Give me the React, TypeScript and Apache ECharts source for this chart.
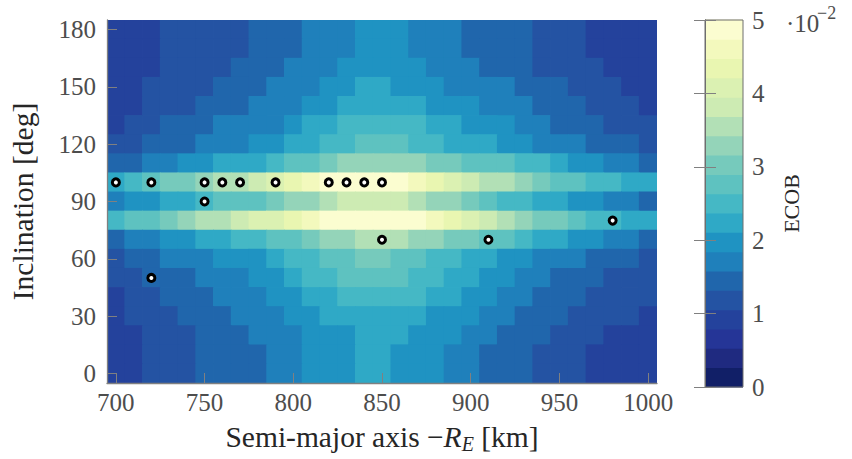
import { useEffect, useRef } from 'react';
import * as echarts from 'echarts';

// Semi-major axis minus Earth radius [km] (cell centres)
const semiMajorAxisKm = [700, 710, 720, 730, 740, 750, 760, 770, 780, 790, 800, 810, 820, 830, 840, 850, 860, 870, 880, 890, 900, 910, 920, 930, 940, 950, 960, 970, 980, 990, 1000];
// Inclination [deg] (cell centres), top row first
const inclinationDeg = [180, 170, 160, 150, 140, 130, 120, 110, 100, 90, 80, 70, 60, 50, 40, 30, 20, 10, 0];

// ECOB values in units of 1e-2, one row per inclination (same order as inclinationDeg)
const ecob180 = [0.9, 0.9, 0.9, 1.2, 1.2, 1.2, 1.2, 1.2, 1.4, 1.4, 1.4, 1.7, 1.7, 1.7, 2.0, 2.0, 2.0, 1.7, 1.7, 1.7, 1.4, 1.4, 1.4, 1.4, 1.2, 1.2, 1.2, 0.9, 0.9, 0.9, 0.9];
const ecob170 = [0.9, 0.9, 0.9, 1.2, 1.2, 1.2, 1.2, 1.2, 1.4, 1.4, 1.4, 1.7, 1.7, 1.7, 2.0, 2.0, 2.0, 1.7, 1.7, 1.7, 1.4, 1.4, 1.4, 1.4, 1.2, 1.2, 1.2, 0.9, 0.9, 0.9, 0.9];
const ecob160 = [0.9, 0.9, 0.9, 1.2, 1.2, 1.2, 1.2, 1.4, 1.4, 1.4, 1.7, 1.7, 1.7, 2.0, 2.0, 2.0, 2.0, 2.0, 1.7, 1.7, 1.7, 1.4, 1.4, 1.4, 1.2, 1.2, 1.2, 1.2, 0.9, 0.9, 0.9];
const ecob150 = [0.9, 0.9, 1.2, 1.2, 1.2, 1.2, 1.4, 1.4, 1.4, 1.7, 1.7, 1.7, 2.0, 2.0, 2.2, 2.2, 2.0, 2.0, 2.0, 1.7, 1.7, 1.7, 1.7, 1.4, 1.4, 1.4, 1.2, 1.2, 1.2, 0.9, 0.9];
const ecob140 = [0.9, 0.9, 1.2, 1.2, 1.2, 1.4, 1.4, 1.4, 1.7, 1.7, 1.7, 2.0, 2.0, 2.2, 2.2, 2.2, 2.2, 2.2, 2.0, 2.0, 2.0, 1.7, 1.7, 1.7, 1.4, 1.4, 1.4, 1.2, 1.2, 1.2, 0.9];
const ecob130 = [0.9, 1.2, 1.2, 1.4, 1.4, 1.4, 1.7, 1.7, 1.7, 1.7, 2.0, 2.2, 2.2, 2.5, 2.5, 2.5, 2.5, 2.5, 2.2, 2.2, 2.0, 2.0, 2.0, 1.7, 1.7, 1.4, 1.4, 1.4, 1.2, 1.2, 1.2];
const ecob120 = [1.2, 1.2, 1.4, 1.4, 1.4, 1.7, 1.7, 1.7, 2.0, 2.0, 2.2, 2.2, 2.5, 2.5, 2.8, 2.8, 2.8, 2.5, 2.5, 2.2, 2.2, 2.2, 2.0, 2.0, 1.7, 1.7, 1.7, 1.4, 1.4, 1.4, 1.2];
const ecob110 = [1.4, 1.4, 1.7, 1.7, 2.0, 2.0, 2.2, 2.2, 2.2, 2.5, 2.8, 2.8, 3.0, 3.3, 3.3, 3.3, 3.3, 3.3, 3.0, 3.0, 2.8, 2.8, 2.8, 2.5, 2.5, 2.2, 2.0, 2.0, 1.7, 1.7, 1.4];
const ecob100 = [2.2, 2.5, 2.8, 3.0, 3.0, 3.3, 3.5, 3.5, 3.8, 4.1, 4.3, 4.6, 4.9, 4.9, 4.9, 4.9, 4.9, 4.6, 4.3, 4.1, 3.8, 3.5, 3.5, 3.3, 3.0, 2.8, 2.8, 2.5, 2.5, 2.2, 2.2];
const ecob90 = [1.7, 2.0, 2.0, 2.2, 2.2, 2.5, 2.8, 2.8, 2.8, 3.0, 3.3, 3.3, 3.5, 3.8, 3.8, 3.8, 3.8, 3.5, 3.3, 3.3, 3.0, 2.8, 2.5, 2.5, 2.2, 2.2, 2.0, 2.0, 1.7, 1.7, 1.4];
const ecob80 = [2.5, 2.8, 2.8, 3.0, 3.3, 3.5, 3.5, 3.8, 4.1, 4.1, 4.3, 4.6, 4.9, 4.9, 4.9, 4.9, 4.9, 4.9, 4.6, 4.3, 4.1, 3.8, 3.5, 3.3, 3.0, 3.0, 2.8, 2.5, 2.5, 2.2, 2.2];
const ecob70 = [1.4, 1.7, 1.7, 2.0, 2.0, 2.2, 2.2, 2.5, 2.5, 2.8, 2.8, 3.0, 3.3, 3.3, 3.5, 3.5, 3.5, 3.3, 3.3, 3.0, 3.0, 2.8, 2.8, 2.5, 2.2, 2.2, 2.0, 2.0, 1.7, 1.7, 1.4];
const ecob60 = [1.2, 1.4, 1.4, 1.7, 1.7, 1.7, 2.0, 2.0, 2.0, 2.2, 2.5, 2.5, 2.8, 2.8, 3.0, 3.0, 2.8, 2.8, 2.5, 2.5, 2.2, 2.2, 2.0, 2.0, 1.7, 1.7, 1.7, 1.4, 1.4, 1.4, 1.2];
const ecob50 = [1.2, 1.2, 1.4, 1.4, 1.4, 1.7, 1.7, 1.7, 2.0, 2.0, 2.2, 2.5, 2.5, 2.8, 2.8, 2.8, 2.8, 2.5, 2.5, 2.2, 2.2, 2.0, 2.0, 1.7, 1.7, 1.4, 1.4, 1.4, 1.2, 1.2, 1.2];
const ecob40 = [0.9, 1.2, 1.2, 1.4, 1.4, 1.4, 1.7, 1.7, 1.7, 2.0, 2.0, 2.2, 2.2, 2.5, 2.5, 2.5, 2.5, 2.5, 2.2, 2.2, 2.0, 2.0, 1.7, 1.7, 1.4, 1.4, 1.4, 1.2, 1.2, 1.2, 1.2];
const ecob30 = [0.9, 1.2, 1.2, 1.2, 1.4, 1.4, 1.4, 1.7, 1.7, 1.7, 2.0, 2.0, 2.2, 2.2, 2.2, 2.2, 2.2, 2.2, 2.0, 2.0, 2.0, 1.7, 1.7, 1.4, 1.4, 1.4, 1.2, 1.2, 1.2, 1.2, 0.9];
const ecob20 = [0.9, 0.9, 1.2, 1.2, 1.2, 1.4, 1.4, 1.4, 1.7, 1.7, 1.7, 2.0, 2.0, 2.0, 2.2, 2.2, 2.2, 2.0, 2.0, 2.0, 1.7, 1.7, 1.4, 1.4, 1.4, 1.2, 1.2, 1.2, 0.9, 0.9, 0.9];
const ecob10 = [0.9, 0.9, 1.2, 1.2, 1.2, 1.4, 1.4, 1.4, 1.4, 1.7, 1.7, 2.0, 2.0, 2.0, 2.2, 2.2, 2.0, 2.0, 2.0, 1.7, 1.7, 1.4, 1.4, 1.4, 1.2, 1.2, 1.2, 0.9, 0.9, 0.9, 0.9];
const ecob0 = [0.9, 0.9, 1.2, 1.2, 1.2, 1.4, 1.4, 1.4, 1.4, 1.7, 1.7, 2.0, 2.0, 2.0, 2.2, 2.2, 2.0, 2.0, 2.0, 1.7, 1.7, 1.4, 1.4, 1.4, 1.2, 1.2, 1.2, 0.9, 0.9, 0.9, 0.9];
const ecobRows = [ecob180, ecob170, ecob160, ecob150, ecob140, ecob130, ecob120, ecob110, ecob100, ecob90, ecob80, ecob70, ecob60, ecob50, ecob40, ecob30, ecob20, ecob10, ecob0];

// Satellites (white markers)
const satSemiMajorKm = [700, 720, 750, 760, 770, 790, 820, 830, 840, 850, 750, 720, 850, 910, 980];
const satInclinationDeg = [100, 100, 100, 100, 100, 100, 100, 100, 100, 100, 90, 50, 70, 70, 80];

// Ticks
const xTickValues = [700, 750, 800, 850, 900, 950, 1000];
const yTickValues = [0, 30, 60, 90, 120, 150, 180];
const colorbarMin = 0;
const colorbarMax = 5;

// YlGnBu colormap, 19 discrete levels from low to high
const levelColors = ['#111f67', '#1f2a80', '#253597', '#24429c', '#2453a3', '#2066ac', '#1f80bb', '#1f93c2', '#2fa9c6', '#45b8c5', '#5ec2c0', '#76cabc', '#94d4b9', '#b2e0b6', '#cdebb3', '#dbf1b2', '#e9f6b1', '#f3f9bd', '#fbfdd0'];

const FONT = 'Liberation Serif, DejaVu Serif, serif';
const TICK_COLOR = '#4d4d4d';
const TITLE_COLOR = '#262626';
const LINE_COLOR = '#808080';

export default function App() {
  const ref = useRef<HTMLDivElement>(null);

  useEffect(() => {
    if (!ref.current) return;
    const chart = echarts.init(ref.current, undefined, { renderer: 'svg' });

    const halfX = (semiMajorAxisKm[1] - semiMajorAxisKm[0]) / 2;
    const halfY = (inclinationDeg[0] - inclinationDeg[1]) / 2;

    const cells: number[][] = [];
    inclinationDeg.forEach((inc, r) => {
      semiMajorAxisKm.forEach((a, k) => {
        cells.push([a, inc, ecobRows[r][k]]);
      });
    });

    const nLevels = levelColors.length;
    const step = (colorbarMax - colorbarMin) / nLevels;
    const pieces = levelColors.map((c, i) => ({
      gte: colorbarMin + i * step,
      lt: i === nLevels - 1 ? colorbarMax + 1 : colorbarMin + (i + 1) * step,
      color: c,
    }));
    const barBands = levelColors.map((_, i) => [colorbarMin + i * step, colorbarMin + (i + 1) * step, i]);

    const sats = satSemiMajorKm.map((a, i) => [a, satInclinationDeg[i]]);
    const plain = (v: number) => String(v);

    const option: any = {
      animation: false,
      backgroundColor: '#ffffff',
      textStyle: { fontFamily: FONT },
      grid: [
        { left: 106, top: 20, width: 551, height: 366, containLabel: false },
        { left: 705, top: 20, width: 38, height: 367, containLabel: false, show: true, borderColor: '#6e6e6e', borderWidth: 1, z: 10, backgroundColor: 'transparent' },
      ],
      visualMap: {
        type: 'piecewise',
        show: false,
        seriesIndex: 0,
        dimension: 2,
        pieces,
      },
      xAxis: [
        {
          type: 'value',
          gridIndex: 0,
          min: 695,
          max: 1005,
          z: 10,
          axisLine: { show: true, onZero: false, lineStyle: { color: LINE_COLOR, width: 1.3 } },
          axisTick: { show: true, inside: true, length: 10, customValues: xTickValues, lineStyle: { color: LINE_COLOR, width: 1 } },
          axisLabel: { customValues: xTickValues, formatter: plain, color: TICK_COLOR, fontSize: 25, fontFamily: FONT, margin: 7 },
          splitLine: { show: false },
          name: '{t|Semi-major axis −}{i|R}{s|E}{t| [km]}',
          nameLocation: 'middle',
          nameGap: 36,
          nameTextStyle: {
            color: TITLE_COLOR,
            fontFamily: FONT,
            rich: {
              t: { fontSize: 29.5, fontFamily: FONT, color: TITLE_COLOR, lineHeight: 35 },
              i: { fontSize: 29.5, fontFamily: FONT, fontStyle: 'italic', color: TITLE_COLOR, lineHeight: 35 },
              s: { fontSize: 20, fontFamily: FONT, fontStyle: 'italic', color: TITLE_COLOR, lineHeight: 21, verticalAlign: 'bottom' },
            },
          },
        },
        {
          type: 'value',
          gridIndex: 1,
          min: 0,
          max: 1,
          show: false,
        },
      ],
      yAxis: [
        {
          type: 'value',
          gridIndex: 0,
          min: -5,
          max: 185,
          z: 10,
          axisLine: { show: true, onZero: false, lineStyle: { color: LINE_COLOR, width: 1.3 } },
          axisTick: { show: true, inside: true, length: 10, customValues: yTickValues, lineStyle: { color: LINE_COLOR, width: 1 } },
          axisLabel: { customValues: yTickValues, formatter: plain, color: TICK_COLOR, fontSize: 25, fontFamily: FONT, margin: 11 },
          splitLine: { show: false },
          name: 'Inclination [deg]',
          nameLocation: 'middle',
          nameRotate: 90,
          nameGap: 69,
          nameTextStyle: { color: TITLE_COLOR, fontSize: 29.5, fontFamily: FONT },
        },
        {
          type: 'value',
          gridIndex: 1,
          position: 'right',
          min: colorbarMin,
          max: colorbarMax,
          interval: 1,
          z: 10,
          axisLine: { show: true, lineStyle: { color: '#6e6e6e', width: 1 } },
          axisTick: { show: true, inside: true, length: 11, lineStyle: { color: LINE_COLOR, width: 1 } },
          axisLabel: { formatter: plain, color: TICK_COLOR, fontSize: 25, fontFamily: FONT, margin: 9 },
          splitLine: { show: false },
          name: 'ECOB',
          nameLocation: 'middle',
          nameRotate: 90,
          nameGap: 37,
          nameTextStyle: { color: TITLE_COLOR, fontSize: 22, fontFamily: FONT },
        },
        {
          type: 'value',
          gridIndex: 1,
          position: 'left',
          min: colorbarMin,
          max: colorbarMax,
          interval: 1,
          z: 10,
          axisLine: { show: true, lineStyle: { color: '#6e6e6e', width: 1 } },
          axisTick: { show: true, inside: true, length: 11, lineStyle: { color: LINE_COLOR, width: 1 } },
          axisLabel: { show: false },
          splitLine: { show: false },
        },
      ],
      series: [
        {
          type: 'custom',
          xAxisIndex: 0,
          yAxisIndex: 0,
          data: cells,
          encode: { x: 0, y: 1 },
          renderItem: (_params: any, api: any) => {
            const x = api.value(0);
            const y = api.value(1);
            const p0 = api.coord([x - halfX, y + halfY]);
            const p1 = api.coord([x + halfX, y - halfY]);
            const fill = api.visual('color');
            return {
              type: 'rect',
              shape: { x: p0[0] - 0.4, y: p0[1] - 0.4, width: p1[0] - p0[0] + 0.8, height: p1[1] - p0[1] + 0.8 },
              style: { fill, stroke: null, lineWidth: 0 },
            };
          },
          clip: true,
          z: 2,
        },
        {
          type: 'custom',
          xAxisIndex: 1,
          yAxisIndex: 1,
          data: barBands,
          encode: { y: [0, 1] },
          renderItem: (_params: any, api: any) => {
            const lo = api.value(0);
            const hi = api.value(1);
            const idx = api.value(2);
            const p0 = api.coord([0, hi]);
            const p1 = api.coord([1, lo]);
            const fill = levelColors[idx];
            return {
              type: 'rect',
              shape: { x: p0[0], y: p0[1] - 0.4, width: p1[0] - p0[0], height: p1[1] - p0[1] + 0.8 },
              style: { fill, stroke: null, lineWidth: 0 },
            };
          },
          z: 2,
        },
        {
          type: 'scatter',
          xAxisIndex: 0,
          yAxisIndex: 0,
          data: sats,
          symbol: 'circle',
          symbolSize: 7,
          itemStyle: { color: '#ffffff', borderColor: '#000000', borderWidth: 3, opacity: 1 },
          z: 5,
        },
      ],
      graphic: [
        {
          type: 'text',
          left: 786,
          top: 11,
          style: { text: '·10', font: `25px ${FONT}`, fill: TICK_COLOR },
        },
        {
          type: 'text',
          left: 817,
          top: 4,
          style: { text: '−2', font: `18px ${FONT}`, fill: TICK_COLOR },
        },
      ],
    };

    chart.setOption(option);
    return () => chart.dispose();
  }, []);

  return (
    <div
      ref={ref}
      style={{ position: 'fixed', left: 0, top: 0, width: 852, height: 459, background: '#ffffff' }}
    />
  );
}
